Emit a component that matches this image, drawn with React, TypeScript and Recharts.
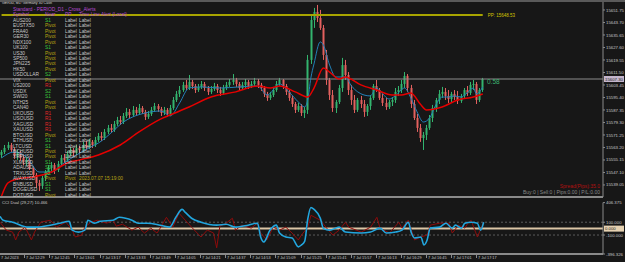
import { ComposedChart, Bar, Line, XAxis, YAxis, ReferenceLine } from 'recharts';

const BG = '#171717';
const BULL = '#33b46e';
const BEAR = '#e2605e';
const AXIS = '#8a8a8a';
const TXT = '#c8c8c8';

// one bar every 2 minutes, plus empty chart shift on the right
const TOTAL_BARS = 193;
const LABEL_EVERY = 8;

// open, high, low, close
const candles: [number, number, number, number][] = [
  [15558.4, 15561.6, 15556.5, 15560.3], [15560.3, 15564.8, 15559.0, 15562.9], [15562.9, 15566.8, 15561.6, 15564.8],
  [15564.8, 15566.1, 15560.3, 15561.6], [15561.6, 15562.9, 15555.8, 15557.7], [15557.7, 15561.6, 15555.2, 15560.3],
  [15560.3, 15561.0, 15554.5, 15556.5], [15556.5, 15558.4, 15551.9, 15553.9], [15553.9, 15557.1, 15551.3, 15555.2],
  [15555.2, 15556.5, 15548.7, 15550.0], [15550.0, 15551.3, 15543.6, 15545.5], [15545.5, 15546.8, 15537.1, 15540.3],
  [15540.3, 15542.3, 15535.2, 15538.4], [15538.4, 15544.9, 15536.5, 15543.6], [15543.6, 15548.7, 15541.6, 15547.4],
  [15547.4, 15551.9, 15545.5, 15550.0], [15550.0, 15553.9, 15548.1, 15551.9], [15551.9, 15553.2, 15546.1, 15548.7],
  [15548.7, 15554.5, 15547.4, 15552.6], [15552.6, 15558.4, 15551.3, 15556.5], [15556.5, 15559.0, 15553.2, 15555.2],
  [15555.2, 15561.0, 15553.9, 15559.0], [15559.0, 15563.5, 15557.7, 15561.6], [15561.6, 15562.9, 15557.1, 15559.7],
  [15559.7, 15564.8, 15558.4, 15562.9], [15562.9, 15564.2, 15559.0, 15561.6], [15561.6, 15566.8, 15560.3, 15564.8],
  [15564.8, 15567.4, 15561.6, 15563.5], [15563.5, 15568.7, 15562.2, 15566.8], [15566.8, 15568.0, 15562.9, 15564.8],
  [15564.8, 15570.0, 15563.5, 15568.0], [15568.0, 15572.5, 15566.8, 15570.6], [15570.6, 15573.2, 15567.4, 15569.3],
  [15569.3, 15575.1, 15568.0, 15573.2], [15573.2, 15577.7, 15571.9, 15575.8], [15575.8, 15578.3, 15572.5, 15574.5],
  [15574.5, 15580.3, 15573.2, 15578.3], [15578.3, 15582.9, 15577.1, 15580.9], [15580.9, 15583.5, 15577.7, 15579.6],
  [15579.6, 15585.4, 15578.3, 15583.5], [15583.5, 15588.6, 15582.2, 15586.1], [15586.1, 15588.0, 15582.2, 15584.1],
  [15584.1, 15589.9, 15582.9, 15587.4], [15587.4, 15589.3, 15583.5, 15585.4], [15585.4, 15591.2, 15584.1, 15588.6],
  [15588.6, 15589.9, 15584.8, 15586.1], [15586.1, 15587.4, 15580.9, 15582.9], [15582.9, 15586.7, 15581.6, 15584.8],
  [15584.8, 15589.3, 15583.5, 15587.4], [15587.4, 15591.9, 15586.1, 15589.9], [15589.9, 15591.2, 15586.1, 15588.0],
  [15588.0, 15589.3, 15583.5, 15585.4], [15585.4, 15589.3, 15584.1, 15587.4], [15587.4, 15588.6, 15582.9, 15584.8],
  [15584.8, 15590.6, 15583.5, 15588.6], [15588.6, 15595.7, 15587.4, 15593.8], [15593.8, 15599.6, 15592.5, 15597.7],
  [15597.7, 15602.8, 15595.7, 15600.2], [15600.2, 15605.4, 15599.0, 15603.5], [15603.5, 15606.7, 15600.2, 15601.5],
  [15601.5, 15609.9, 15600.2, 15605.4], [15605.4, 15606.7, 15600.9, 15602.8], [15602.8, 15604.1, 15598.3, 15600.2],
  [15600.2, 15604.1, 15599.0, 15602.2], [15602.2, 15606.0, 15600.9, 15604.1], [15604.1, 15605.4, 15599.6, 15601.5],
  [15601.5, 15602.8, 15597.0, 15599.0], [15599.0, 15602.8, 15597.7, 15600.9], [15600.9, 15604.8, 15599.6, 15602.8],
  [15602.8, 15604.1, 15598.3, 15600.2], [15600.2, 15602.2, 15596.4, 15598.3], [15598.3, 15603.5, 15597.0, 15601.5],
  [15601.5, 15605.4, 15600.2, 15603.5], [15603.5, 15607.3, 15602.2, 15605.4], [15605.4, 15610.5, 15603.5, 15606.7],
  [15606.7, 15608.0, 15602.2, 15604.1], [15604.1, 15605.4, 15599.6, 15601.5], [15601.5, 15605.4, 15600.2, 15603.5],
  [15603.5, 15607.3, 15601.5, 15605.4], [15605.4, 15606.7, 15600.9, 15602.8], [15602.8, 15606.0, 15601.5, 15604.1],
  [15604.1, 15608.0, 15602.8, 15606.0], [15606.0, 15607.3, 15601.5, 15603.5], [15603.5, 15604.8, 15599.6, 15601.5],
  [15601.5, 15602.8, 15595.7, 15597.7], [15597.7, 15599.0, 15593.2, 15595.1], [15595.1, 15599.0, 15593.8, 15597.0],
  [15597.0, 15602.2, 15595.7, 15600.2], [15600.2, 15606.0, 15599.0, 15604.1], [15604.1, 15608.0, 15602.8, 15606.7],
  [15606.7, 15607.3, 15600.9, 15602.8], [15602.8, 15604.1, 15597.0, 15599.0], [15599.0, 15600.2, 15593.2, 15595.1],
  [15595.1, 15596.4, 15589.3, 15591.2], [15591.2, 15592.5, 15585.4, 15587.4], [15587.4, 15591.9, 15586.1, 15589.9],
  [15589.9, 15591.2, 15583.5, 15585.4], [15585.4, 15589.3, 15582.2, 15587.4], [15587.4, 15622.8, 15584.8, 15619.6],
  [15619.6, 15648.5, 15617.0, 15645.3], [15645.3, 15653.1, 15640.2, 15650.5], [15650.5, 15655.0, 15644.0, 15646.6],
  [15646.6, 15651.8, 15638.9, 15640.2], [15640.2, 15642.1, 15619.6, 15622.8], [15622.8, 15626.0, 15603.5, 15606.7],
  [15606.7, 15608.0, 15593.8, 15597.0], [15597.0, 15600.2, 15586.1, 15588.6], [15588.6, 15593.8, 15585.4, 15592.5],
  [15592.5, 15603.5, 15591.2, 15601.5], [15601.5, 15620.9, 15599.0, 15616.3], [15616.3, 15619.6, 15606.7, 15609.9],
  [15609.9, 15611.8, 15597.0, 15600.2], [15600.2, 15603.5, 15590.6, 15593.8], [15593.8, 15597.0, 15585.4, 15587.4],
  [15587.4, 15595.1, 15586.1, 15593.8], [15593.8, 15596.4, 15588.6, 15591.2], [15591.2, 15593.8, 15582.9, 15586.1],
  [15586.1, 15591.2, 15583.5, 15589.9], [15589.9, 15597.0, 15587.4, 15595.1], [15595.1, 15604.1, 15593.8, 15602.8],
  [15602.8, 15606.7, 15599.0, 15600.2], [15600.2, 15601.5, 15593.8, 15595.1], [15595.1, 15597.7, 15589.9, 15591.9],
  [15591.9, 15595.1, 15587.4, 15589.3], [15589.3, 15593.8, 15588.0, 15592.5], [15592.5, 15595.7, 15589.9, 15593.8],
  [15593.8, 15601.5, 15591.9, 15599.0], [15599.0, 15602.8, 15596.4, 15600.2], [15600.2, 15606.7, 15598.3, 15604.1],
  [15604.1, 15611.8, 15601.5, 15609.3], [15609.3, 15610.5, 15599.0, 15601.5], [15601.5, 15603.5, 15588.6, 15591.2],
  [15591.2, 15593.8, 15580.9, 15582.2], [15582.2, 15584.8, 15573.2, 15575.8], [15575.8, 15578.3, 15566.8, 15569.3],
  [15569.3, 15573.2, 15561.6, 15571.3], [15571.3, 15577.7, 15568.0, 15575.8], [15575.8, 15584.1, 15574.5, 15582.2],
  [15582.2, 15590.6, 15579.6, 15588.6], [15588.6, 15595.1, 15586.1, 15593.8], [15593.8, 15600.2, 15591.2, 15597.7],
  [15597.7, 15602.2, 15595.1, 15599.0], [15599.0, 15601.5, 15593.8, 15596.4], [15596.4, 15600.2, 15591.9, 15594.4],
  [15594.4, 15599.0, 15592.5, 15597.7], [15597.7, 15600.2, 15593.8, 15595.7], [15595.7, 15599.6, 15591.2, 15593.2],
  [15593.2, 15597.7, 15591.9, 15596.4], [15596.4, 15601.5, 15595.1, 15600.2], [15600.2, 15602.8, 15596.4, 15598.3],
  [15598.3, 15605.4, 15597.0, 15603.5], [15603.5, 15606.7, 15600.2, 15604.1], [15604.1, 15605.4, 15591.2, 15593.8],
  [15593.8, 15601.5, 15592.5, 15600.2], [15600.2, 15608.0, 15599.0, 15607.3],
];

// [bar index, value]
const maFast: [number, number][] = [
  [0, 15556.5], [4, 15560.3], [8, 15557.1], [12, 15547.4], [16, 15547.4], [20, 15553.2], [24, 15558.4],
  [28, 15562.9], [32, 15567.4], [35, 15572.5], [39, 15579.6], [42, 15582.9], [46, 15585.4], [51, 15586.7],
  [54, 15583.5], [57, 15591.9], [60, 15601.5], [64, 15602.2], [70, 15601.5], [76, 15602.2], [82, 15602.8],
  [85, 15597.0], [89, 15604.1], [92, 15599.0], [95, 15592.5], [97, 15589.3], [98, 15593.8], [99, 15608.0],
  [100, 15617.0], [102, 15631.2], [103, 15629.2], [105, 15616.3], [107, 15608.6], [110, 15608.6], [112, 15602.8],
  [114, 15599.0], [116, 15597.0], [118, 15596.4], [120, 15601.5], [122, 15597.7], [124, 15594.4], [126, 15596.4],
  [129, 15601.5], [131, 15595.1], [133, 15586.1], [135, 15579.6], [137, 15582.2], [139, 15590.6], [141, 15595.7],
  [143, 15595.7], [145, 15596.4], [147, 15595.7], [149, 15598.3], [151, 15601.5], [152, 15597.7], [154, 15602.2],
];

const maSlow: [number, number][] = [
  [0, 15532.0], [2, 15540.3], [5, 15542.9], [10, 15544.2], [16, 15547.4], [21, 15553.2], [25, 15555.2],
  [31, 15558.4], [38, 15564.8], [44, 15573.2], [51, 15581.6], [57, 15586.7], [60, 15589.3], [67, 15595.7],
  [75, 15599.0], [82, 15602.8], [86, 15601.5], [89, 15602.8], [94, 15599.0], [98, 15595.7], [100, 15601.5],
  [103, 15614.4], [105, 15611.8], [108, 15607.3], [110, 15608.6], [115, 15603.5], [120, 15600.2], [125, 15597.0],
  [128, 15597.0], [131, 15598.3], [134, 15591.2], [136, 15587.4], [141, 15589.3], [146, 15593.8], [151, 15595.7],
  [154, 15597.7],
];

const cciFast: [number, number][] = [
  [0, 192], [1, 131], [4, 100], [9, 23], [12, 23], [16, 54], [19, 85], [22, 115], [23, -23], [25, -54], [27, -23],
  [28, 131], [30, 85], [32, 115], [36, 131], [38, 177], [40, 162], [42, 131], [44, 85], [47, 85], [51, 54], [54, 23],
  [56, 177], [58, 300], [59, 254], [61, 162], [64, 100], [69, 54], [72, 69], [75, 23], [79, 54], [82, 85], [83, -131],
  [84, -208], [86, -23], [88, 54], [89, -69], [91, -131], [93, -146], [95, -285], [96, -254], [97, -200], [98, 150],
  [99, 330], [100, 300], [102, 162], [103, 0], [105, -23], [108, 23], [110, -54], [115, -69], [118, -54], [121, 8],
  [123, -69], [126, -54], [128, -23], [130, 100], [131, -69], [132, -146], [134, -131], [135, -254], [136, -177],
  [137, 8], [140, 23], [142, 85], [144, 8], [145, 54], [147, 8], [148, 85], [150, 100], [152, 85], [153, -23], [154, 100],
];

const cciSlow: [number, number][] = [
  [0, 100], [2, -23], [4, -54], [5, -177], [6, -54], [8, 23], [10, -177], [11, -54], [13, 100], [16, 131], [18, 23],
  [21, 100], [23, -23], [24, -131], [26, -100], [27, 23], [29, 100], [31, 131], [34, 85], [36, 131], [37, 38], [39, 69],
  [42, -23], [44, 23], [46, -69], [48, 8], [50, -69], [51, 8], [53, 177], [55, 23], [57, 239], [59, 131], [61, 23],
  [64, -131], [66, -23], [68, -69], [69, -300], [70, 38], [72, 85], [74, 162], [75, -23], [77, 54], [80, 8], [82, 85],
  [83, -69], [85, -177], [87, 23], [89, -23], [91, 23], [93, -69], [95, -177], [96, -100], [98, 23], [99, 208],
  [102, 131], [104, 8], [106, -100], [108, -23], [110, 100], [111, 23], [115, -54], [118, 23], [120, 177], [121, 8],
  [124, -69], [127, 100], [128, 8], [130, 131], [132, -177], [134, -131], [136, -100], [137, 54], [140, 85], [143, 85],
  [144, -69], [146, 54], [148, 8], [149, 85], [150, 131], [152, -131], [154, 100],
];

const priceTicks = [
  15539.05, 15547.1, 15555.15, 15563.2, 15571.25, 15579.3, 15587.35, 15595.4, 15603.45, 15611.5, 15619.55,
  15627.6, 15635.65, 15643.7, 15651.75,
];
const cciTicks = [-396.326, -100, 100, 406.375];

const timeLabels = [
  '7 Jul 2023', '7 Jul 12:29', '7 Jul 12:45', '7 Jul 13:01', '7 Jul 13:17', '7 Jul 13:33', '7 Jul 13:49',
  '7 Jul 14:05', '7 Jul 14:21', '7 Jul 14:37', '7 Jul 14:53', '7 Jul 15:09', '7 Jul 15:25', '7 Jul 15:41',
  '7 Jul 15:57', '7 Jul 16:13', '7 Jul 16:29', '7 Jul 16:45', '7 Jul 17:01', '7 Jul 17:17',
];

const PP = 15648.53;
const LAST_PRICE = 15607.3;
const LAST_CCI = 0;

const symbols = [
  'AUS200', 'EUSTX50', 'FRA40', 'GER30', 'NDX100', 'UK100', 'US30', 'SP500', 'JPN225', 'HK50', 'USDOLLAR', 'VIX',
  'US2000', 'USDX', 'SWI20', 'NTH25', 'CAN40', 'UKOUSD', 'USOUSD', 'XAGUSD', 'XAUUSD', 'BTCUSD', 'ETHUSD', 'LTCUSD',
  'BCHUSD', 'XRPUSD', 'XLMUSD', 'ADAUSD', 'TRXUSD', 'AVAXUSD', 'BNBUSD', 'DOGEUSD', 'DOTUSD',
];
const nearLevels = [
  'S1', 'Pivot', 'Pivot', 'Pivot', 'Pivot', 'S1', 'Pivot', 'Pivot', 'Pivot', 'Pivot', 'S2', 'Pivot',
  'R1', 'S2', 'S1', 'Pivot', 'Pivot', 'R1', 'R1', 'R1', 'R1', 'Pivot', 'S1', 'S1',
  'Pivot', 'Pivot', 'S1', 'S1', 'S1', 'Pivot', 'S1', 'S1', 'Pivot',
];
const ppCells = symbols.map((s) => (s === 'AVAXUSD' ? 'Pivot' : 'Label'));
const alertCells = symbols.map((s) => (s === 'AVAXUSD' ? '2023.07.07 15:19:00' : 'Label'));

const levelColor: Record<string, string> = { Pivot: '#b9a414', S1: '#3cc43c', S2: '#3cc43c', R1: '#e02828' };

const data: any[] = Array.from({ length: TOTAL_BARS }, (_, i) => {
  const c = candles[i];
  return c ? { i, open: c[0], high: c[1], low: c[2], close: c[3], range: [c[2], c[1]] } : { i };
});
maFast.forEach(([i, v]) => (data[i].fast = v));
maSlow.forEach(([i, v]) => (data[i].slow = v));
cciFast.forEach(([i, v]) => (data[i].cciA = v));
cciSlow.forEach(([i, v]) => (data[i].cciB = v));

function Candle(props: any) {
  const { x, y, width, height, payload } = props;
  if (!payload || payload.open == null || !isFinite(y)) return null;
  const { open, high, low, close } = payload;
  const top = Math.min(y, y + height);
  const h = Math.abs(height);
  const span = high - low || 1;
  const toY = (v: number) => top + ((high - v) / span) * h;
  const color = close >= open ? BULL : BEAR;
  const cx = Math.round(x + width / 2) + 0.5;
  const b1 = toY(Math.max(open, close));
  const b2 = toY(Math.min(open, close));
  return (
    <g>
      <line x1={cx} x2={cx} y1={top} y2={top + h} stroke={color} strokeWidth={1} />
      <rect x={cx - 1} y={b1} width={2} height={Math.max(b2 - b1, 1)} fill={color} />
    </g>
  );
}

function AxisTag({ viewBox, text, fill, color }: any) {
  if (!viewBox) return null;
  const x = viewBox.x + viewBox.width + 1;
  return (
    <g>
      <rect x={x} y={viewBox.y - 3} width={20} height={6} fill={fill} />
      <text x={x + 1} y={viewBox.y + 1.6} fontSize={4.3} fill={color}>
        {text}
      </text>
    </g>
  );
}

function TimeTick(props: any) {
  const { x, y, payload } = props;
  const i = Number(payload.value);
  const label = i % LABEL_EVERY === 0 ? timeLabels[i / LABEL_EVERY] : undefined;
  if (!label) return null;
  const tx = Math.round(x - 1) + 0.5;
  return (
    <g>
      <line x1={tx} x2={tx} y1={y + 1} y2={y + 4} stroke={AXIS} strokeWidth={1} />
      <text x={tx + 1.5} y={y + 5} fontSize={3.8} fill={TXT}>
        {label}
      </text>
    </g>
  );
}

const cell = (left: number, color: string): any => ({ position: 'absolute', left, color, whiteSpace: 'nowrap' });

export default function App() {
  const rowTop = (r: number) => 17.7 + r * 5.47;
  return (
    <div
      style={{
        position: 'absolute', left: 0, top: 0, width: 625, height: 262, background: BG, overflow: 'hidden',
        fontFamily: '"Liberation Sans", Arial, sans-serif',
      }}
    >
      <div style={{ position: 'absolute', left: 0, top: 0 }}>
        <ComposedChart width={625} height={198} data={data} margin={{ top: 2, right: 0, bottom: 0, left: 0 }}>
          <XAxis dataKey="i" type="category" tick={false} tickLine={false} height={1}
            axisLine={{ stroke: AXIS, strokeWidth: 2 }} />
          <YAxis orientation="right" width={22} type="number" domain={[15531.3, 15656.9]} allowDataOverflow
            ticks={priceTicks} interval={0} tickSize={2} tickMargin={1}
            tick={{ fill: TXT, fontSize: 4.3 }} tickLine={{ stroke: AXIS }} axisLine={{ stroke: AXIS }}
            tickFormatter={(v: number) => v.toFixed(2)} />
          <ReferenceLine y={LAST_PRICE} stroke="#8c8c8c" strokeWidth={1}
            label={(p: any) => <AxisTag viewBox={p.viewBox} text={LAST_PRICE.toFixed(2)} fill="#c4b6cc" color="#202020" />} />
          <Bar dataKey="range" shape={<Candle />} isAnimationActive={false} />
          <Line dataKey="fast" type="monotone" stroke="#2380b8" strokeWidth={1} dot={false} connectNulls
            isAnimationActive={false} />
          <Line dataKey="slow" type="monotone" stroke="#e60000" strokeWidth={1.5} dot={false} connectNulls
            isAnimationActive={false} />
          <ReferenceLine segment={[{ x: 0, y: PP }, { x: 154, y: PP }]} stroke="#a8a400" strokeWidth={2}
            label={(p: any) => (
              <text x={p.viewBox.x + p.viewBox.width + 5} y={p.viewBox.y + 1.6} fontSize={4.5} fill="#d2c400">
                PP: {PP.toFixed(2)}
              </text>
            )} />
        </ComposedChart>
      </div>

      <div style={{ position: 'absolute', left: 0, top: 197 }}>
        <ComposedChart width={625} height={65} data={data} margin={{ top: 5.6, right: 0, bottom: 0, left: 0 }}>
          <XAxis dataKey="i" type="category" interval={0} height={8} tickSize={0} tickMargin={0} tickLine={false}
            tick={<TimeTick />} axisLine={{ stroke: AXIS, strokeWidth: 2 }} />
          <YAxis orientation="right" width={22} type="number" domain={[-396.326, 406.375]} allowDataOverflow
            ticks={cciTicks} interval={0} tickSize={2} tickMargin={1}
            tick={{ fill: TXT, fontSize: 4.3 }} tickLine={{ stroke: AXIS }} axisLine={{ stroke: AXIS }}
            tickFormatter={(v: number) => v.toFixed(3)} />
          <ReferenceLine y={100} stroke="#5c5c5c" strokeDasharray="2 2" />
          <ReferenceLine y={-100} stroke="#5c5c5c" strokeDasharray="2 2" />
          <ReferenceLine y={LAST_CCI} stroke="#dcc6a6" strokeWidth={2}
            label={(p: any) => <AxisTag viewBox={p.viewBox} text={LAST_CCI.toFixed(3)} fill="#e6d2b2" color="#202020" />} />
          <Line dataKey="cciB" type="linear" stroke="#8e0c0c" strokeWidth={1} dot={false} connectNulls
            isAnimationActive={false} />
          <Line dataKey="cciA" type="monotone" stroke="#22a6de" strokeWidth={1.6} dot={false} connectNulls
            isAnimationActive={false} />
        </ComposedChart>
      </div>

      <div style={{ position: 'absolute', left: 0, top: 0, width: 625, height: 262, pointerEvents: 'none', fontSize: 4.8, lineHeight: '5px' }}>
        <div style={{ ...cell(2, '#d8d8d8'), top: 1, fontSize: 3.6 }}>GER30, M1:  Germany 30 Cash</div>
        <div style={{ ...cell(13, '#b64ad2'), top: rowTop(-2) }}>Standard - PERIOD_D1 - Cross_Alerts</div>
        <div style={{ ...cell(13, '#b64ad2'), top: rowTop(-1) }}>Symbol</div>
        <div style={{ ...cell(45, '#b64ad2'), top: rowTop(-1) }}>Near</div>
        <div style={{ ...cell(65, '#b64ad2'), top: rowTop(-1) }}>PP</div>
        <div style={{ ...cell(79, '#b64ad2'), top: rowTop(-1) }}>Time Line Alert (Local)</div>
        {symbols.map((s, r) => (
          <div key={s}>
            <div style={{ ...cell(13, TXT), top: rowTop(r) }}>{s}</div>
            <div style={{ ...cell(45, levelColor[nearLevels[r]]), top: rowTop(r) }}>{nearLevels[r]}</div>
            <div style={{ ...cell(65, ppCells[r] === 'Label' ? TXT : levelColor.Pivot), top: rowTop(r) }}>{ppCells[r]}</div>
            <div style={{ ...cell(79, alertCells[r] === 'Label' ? TXT : levelColor.Pivot), top: rowTop(r) }}>{alertCells[r]}</div>
          </div>
        ))}
        <div style={{ ...cell(487, '#3cb371'), top: 78, fontSize: 6.5, lineHeight: '7px' }}>0.58</div>
        <div style={{ position: 'absolute', right: 25, top: 184, color: '#b01010', fontSize: 5, whiteSpace: 'nowrap' }}>
          Spread(Pips):35.0
        </div>
        <div style={{ position: 'absolute', right: 25, top: 189.5, color: '#8a8a8a', fontSize: 5, whiteSpace: 'nowrap' }}>
          Buy:0 | Sell:0 | Pips:0.00 | P/L:0.00
        </div>
        <div style={{ ...cell(2, TXT), top: 199.5, fontSize: 4.2 }}>CCI Dual (29,27) 10.466</div>
      </div>
      <div style={{ position: 'absolute', left: 0, top: 0, width: 625, height: 1.5, background: '#5a5a5a' }} />
    </div>
  );
}
